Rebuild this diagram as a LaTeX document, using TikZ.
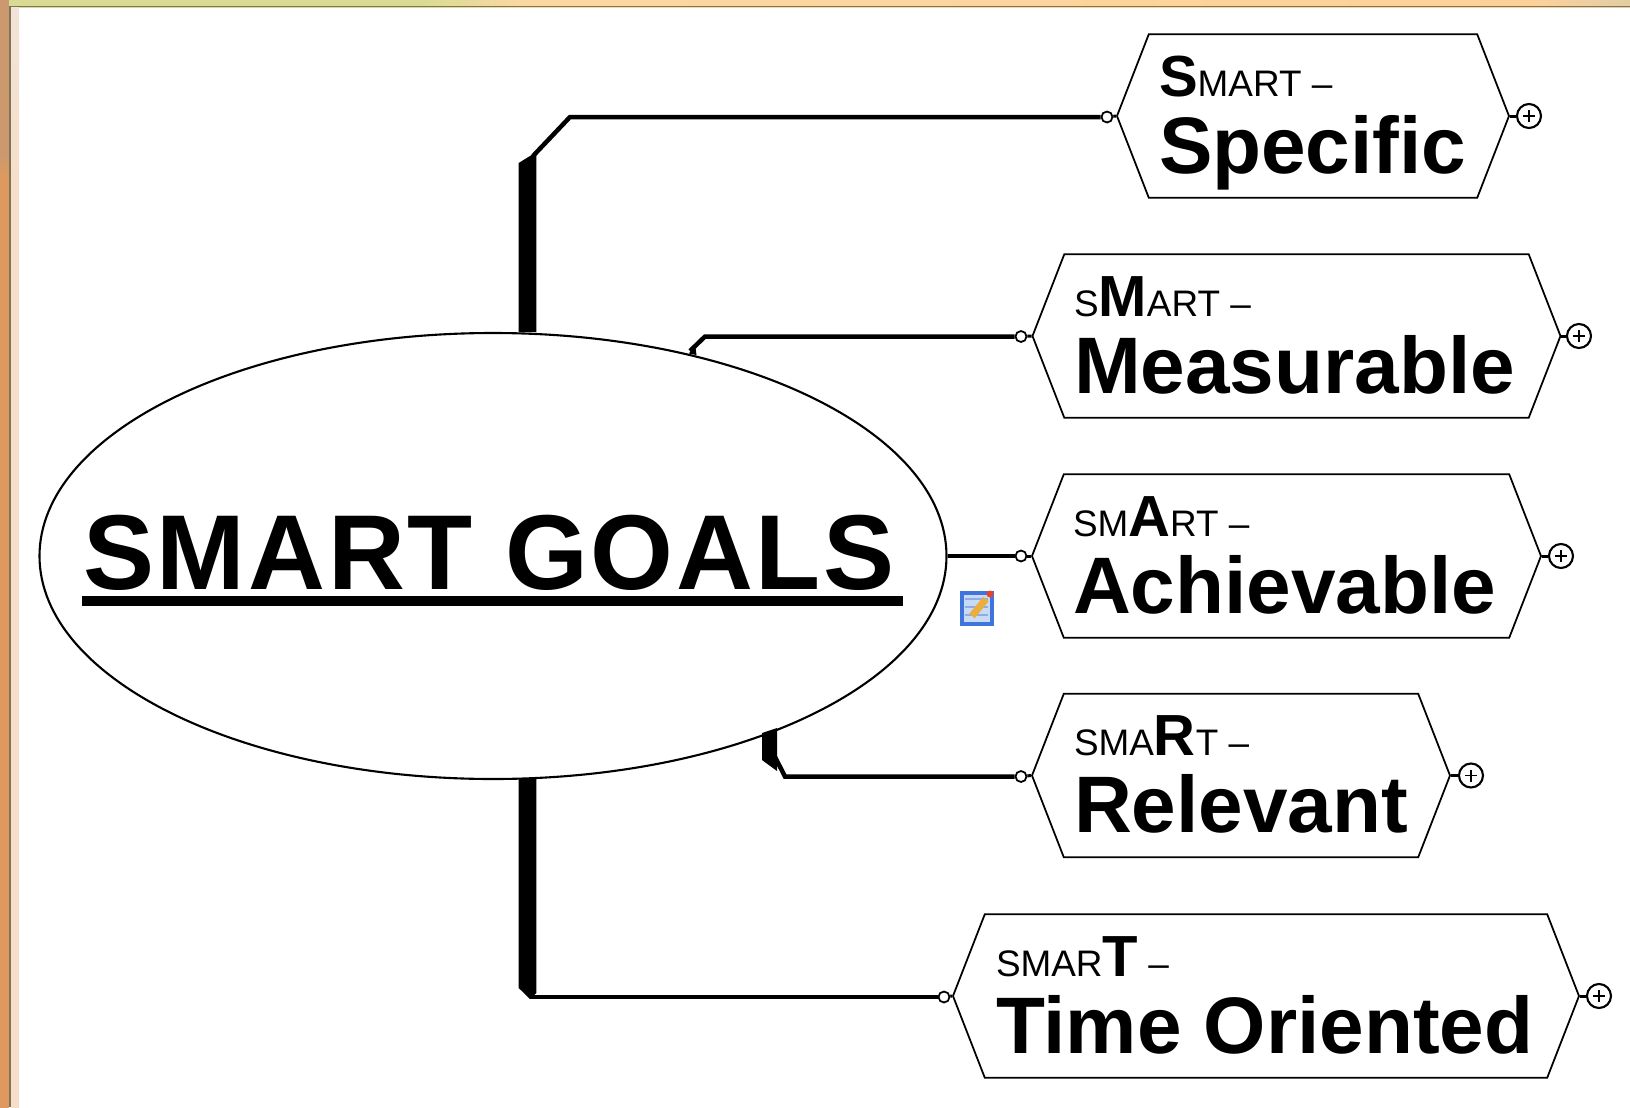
\documentclass[tikz,border=0pt]{standalone}
\usepackage{fontspec}
\setmainfont{Liberation Sans}
\usetikzlibrary{positioning}
\usetikzlibrary{shapes.geometric}
\usetikzlibrary{shapes.symbols}

\definecolor{notefill}{HTML}{C9DAF5}
\definecolor{noteblue}{HTML}{3F74DC}
\definecolor{notepen}{HTML}{E9AE3C}
\definecolor{notered}{HTML}{E5432A}
\definecolor{framedark}{HTML}{7E7458}

\pgfdeclarehorizontalshading{topglass}{100bp}{
  rgb(0bp)=(.85,.78,.63);
  rgb(21bp)=(.84,.80,.62);
  rgb(23bp)=(.85,.86,.58);
  rgb(38bp)=(.85,.86,.58);
  rgb(41bp)=(.98,.85,.63);
  rgb(72bp)=(.99,.82,.60);
  rgb(76bp)=(.85,.80,.66);
  rgb(100bp)=(.66,.60,.44)}
\pgfdeclareverticalshading{sideglass}{100bp}{
  rgb(0bp)=(.88,.60,.37);
  rgb(67bp)=(.87,.60,.37);
  rgb(68bp)=(.80,.60,.43);
  rgb(75bp)=(.80,.60,.43);
  rgb(76bp)=(.87,.74,.58);
  rgb(100bp)=(.87,.75,.60)}
\pgfdeclareverticalshading{sidelight}{100bp}{
  rgb(0bp)=(.97,.87,.79);
  rgb(67bp)=(.97,.87,.79);
  rgb(76bp)=(.94,.90,.85);
  rgb(100bp)=(.94,.90,.85)}

\newcommand{\smc}[1]{{\spaceskip=0pt\fontsize{10.5pt}{12pt}\selectfont #1}}
\newcommand{\bigc}[1]{\rule{0pt}{10.7pt}\smash{\fontsize{16.5pt}{12pt}\selectfont\bfseries #1}}
\newcommand{\ttl}[1]{\smash{\spaceskip=0pt\bfseries #1}}

\tikzset{
  goalbox/.style={draw, line width=0.5pt, shape=signal, signal to=east and west,
    signal pointer angle=137.5, inner xsep=0pt, inner ysep=0pt, align=left, fill=white,
    minimum height=1.635cm, font=\fontsize{22.8pt}{22pt}\selectfont},
  trunk/.style={fill=black},
  branch/.style={draw=black, line width=0.045cm},
  dotin/.style={circle, draw, fill=white, line width=0.5pt, inner sep=0pt, minimum size=0.11cm},
  expander/.style={circle, draw, fill=white, line width=0.6pt, inner sep=0pt, minimum size=0.24cm,
    path picture={
      \draw[line width=0.45pt] ([xshift=-0.06cm]path picture bounding box.center) -- ([xshift=0.06cm]path picture bounding box.center);
      \draw[line width=0.45pt] ([yshift=-0.06cm]path picture bounding box.center) -- ([yshift=0.06cm]path picture bounding box.center);}},
  stub/.style={draw=black, line width=0.03cm}
}

\begin{document}
\begin{tikzpicture}
\useasboundingbox (0,0) rectangle (16.3,11.07);

% window frame
\shade[shading=topglass] (0,10.995) rectangle (16.3,11.07);
\shade[shading=sideglass] (0,0) rectangle (0.09,11.07);
\shade[shading=sidelight] (0.11,0) rectangle (0.19,11.0);
\fill[framedark] (0.09,0) rectangle (0.11,11.01);
\fill[framedark] (0.09,11.0) rectangle (16.3,11.015);

% centre
\node[ellipse, draw, line width=0.6pt, minimum width=9.07cm, minimum height=4.46cm, inner sep=0pt] (goals) at (4.93,5.51) {};
\node[font=\fontsize{30.3pt}{32pt}\selectfont\bfseries\addfontfeature{LetterSpace=2.6}, inner sep=0pt, anchor=base] (goalstext) at (4.89,5.18) {SMART GOALS};
\fill[black] (0.82,5.01) rectangle (9.03,5.11);

% boxes
\node[goalbox, text width=3.08cm, minimum width=3.92cm] (spec) at (13.13,9.91) {\bigc{S}\smc{MART –}\\\ttl{Specific}};
\node[goalbox, text width=4.45cm, minimum width=5.28cm] (meas) at (12.965,7.71) {\smc{S}\bigc{M}\smc{ART –}\\\ttl{Measurable}};
\node[goalbox, text width=4.27cm, minimum width=5.09cm] (achi) at (12.865,5.51) {\smc{SM}\bigc{A}\smc{RT –}\\\ttl{Achievable}};
\node[goalbox, text width=3.34cm, minimum width=4.18cm] (rele) at (12.41,3.315) {\smc{SMA}\bigc{R}\smc{T –}\\\ttl{Relevant}};
\node[goalbox, text width=5.40cm, minimum width=6.26cm] (time) at (12.66,1.11) {\smc{SMAR}\bigc{T}\smc{ –}\\\ttl{Time Oriented}};

% entry dots
\node[dotin] (dotspec) at (11.07,9.90) {};
\node[dotin] (dotmeas) at (10.21,7.705) {};
\node[dotin] (dotachi) at (10.21,5.51) {};
\node[dotin] (dotrele) at (10.21,3.305) {};
\node[dotin] (dottime) at (9.44,1.10) {};

% expanders
\node[expander] (expspec) at (15.29,9.91) {};
\node[expander] (expmeas) at (15.79,7.71) {};
\node[expander] (expachi) at (15.61,5.51) {};
\node[expander] (exprele) at (14.71,3.315) {};
\node[expander] (exptime) at (15.99,1.11) {};

\draw[stub] (dotspec) -- (spec.west);
\draw[stub] (dotmeas) -- (meas.west);
\draw[stub] (dotachi) -- (achi.west);
\draw[stub] (dotrele) -- (rele.west);
\draw[stub] (dottime) -- (time.west);
\draw[stub] (spec.east) -- (expspec);
\draw[stub] (meas.east) -- (expmeas);
\draw[stub] (achi.east) -- (expachi);
\draw[stub] (rele.east) -- (exprele);
\draw[stub] (time.east) -- (exptime);

% 1st branch
\coordinate (bendspec) at (5.33,9.51);
\coordinate (elbowspec) at (5.70,9.90);
\fill[trunk] (5.187,7.75) -- (5.187,9.44) -- (5.364,9.55) -- (5.364,7.75) -- cycle;
\draw[branch] (bendspec) -- (elbowspec) -- (dotspec);

% 2nd branch
\coordinate (bendmeas) at (6.90,7.56);
\coordinate (elbowmeas) at (7.05,7.705);
\fill[trunk] (6.89,7.535) -- (6.95,7.63) -- (6.965,7.52) -- cycle;
\draw[branch] (bendmeas) -- (elbowmeas) -- (dotmeas);

% 3rd branch
\draw[branch] (goals.east) -- (dotachi);

% 4th branch
\coordinate (bendrele) at (7.75,3.50);
\coordinate (elbowrele) at (7.85,3.305);
\fill[trunk] (7.62,3.74) -- (7.62,3.47) -- (7.77,3.36) -- (7.77,3.79) -- cycle;
\draw[branch] (bendrele) -- (elbowrele) -- (dotrele);

% 5th branch
\coordinate (bendtime) at (5.30,1.10);
\fill[trunk] (5.187,3.28) -- (5.187,1.19) -- (5.30,1.08) -- (5.364,1.14) -- (5.364,3.28) -- cycle;
\draw[branch] (bendtime) -- (dottime);

% note icon
\fill[notefill] (9.62,4.83) rectangle (9.92,5.14);
\draw[noteblue, line width=0.035cm] (9.62,4.83) rectangle (9.92,5.14);
\foreach \y in {4.92,5.00,5.08}
  \draw[noteblue!60, line width=0.02cm] (9.65,\y) -- (9.88,\y);
\draw[notepen, line width=0.07cm] (9.72,4.91) -- (9.86,5.08);
\fill[notered] (9.90,5.13) circle (0.035);
\end{tikzpicture}
\end{document}
